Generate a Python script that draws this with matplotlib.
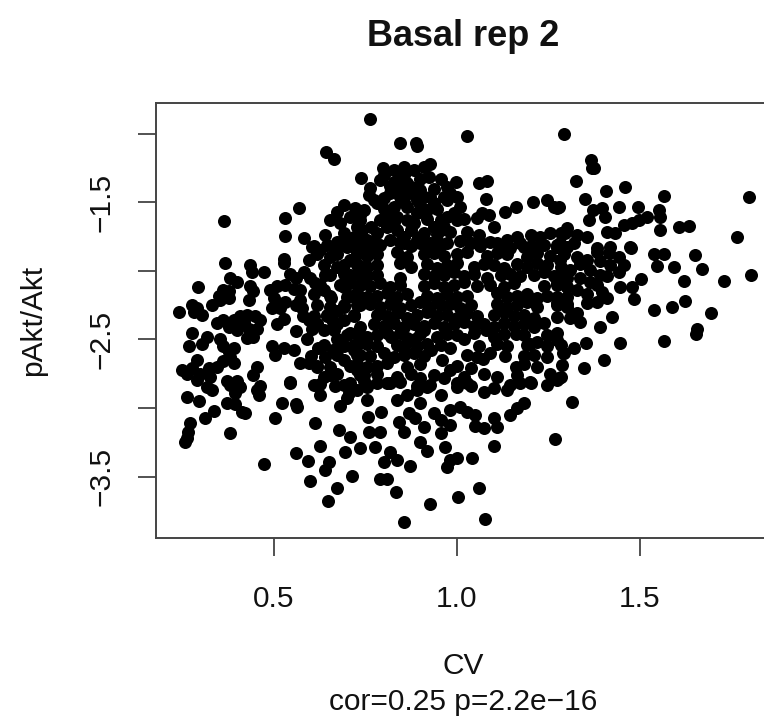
"""Basal rep 2 — pAkt/Akt against CV, one dot per cell."""

import matplotlib

matplotlib.use("Agg")
import matplotlib.pyplot as plt
import numpy as np

plt.rcParams["font.family"] = ["Liberation Sans", "DejaVu Sans"]

# ── points, grouped by region of the cloud ───────────────────────────────────
# upper band (pAkt/Akt above about -1.8)
top_x = [0.642, 0.663, 0.738, 0.364, 0.531, 0.569, 0.531, 0.581, 0.640, 0.604,
         0.672, 0.663, 0.672, 0.690, 0.722, 0.654, 0.681, 0.709, 0.736, 0.727,
         0.690, 0.718, 0.745, 0.736, 0.700,
         0.762, 0.844, 0.889, 0.891, 1.026, 1.292, 0.798, 0.791, 0.827, 0.855,
         0.882, 0.909, 0.927, 0.923, 0.845, 0.864, 0.827, 0.763, 0.759, 0.773,
         0.782, 0.745, 0.736, 0.741, 0.754, 0.727, 0.818, 0.845, 0.873, 0.900,
         0.891, 0.864, 0.827, 0.809, 0.836, 0.864, 0.891, 0.918, 0.937, 0.927,
         0.809, 0.836, 0.873, 0.909, 0.937, 0.955, 0.782, 0.818, 0.855, 0.891,
         0.927, 0.973, 0.996, 0.982, 1.000, 0.973, 1.009, 0.991, 1.000, 0.973,
         0.955, 0.982, 0.946, 0.973, 1.060, 1.082, 1.078, 1.055, 1.069, 1.087,
         1.100, 1.059, 1.064, 1.132, 1.162, 1.208, 1.246, 1.264, 1.274, 1.110,
         1.137, 1.164, 1.201, 1.228, 1.255, 1.283, 1.182, 1.210, 1.237, 1.274,
         0.800, 0.855, 0.900, 0.818, 0.873, 0.936, 0.845, 0.800, 0.909, 0.855,
         0.800, 0.900, 0.946, 0.827, 0.882, 0.918, 0.791, 0.855, 0.900, 0.945,
         0.764, 0.773, 0.964, 1.018, 1.027, 1.036, 1.009, 0.964, 0.955,
         1.366, 1.369, 1.375, 1.325, 1.407, 1.460, 1.351, 1.567, 1.797, 1.278,
         1.373, 1.396, 1.405, 1.442, 1.495, 1.551, 1.556, 1.360, 1.301, 1.296,
         1.328, 1.355, 1.410, 1.433, 1.455, 1.478, 1.496, 1.519, 1.556, 1.606,
         1.633, 1.765, 1.282, 1.319, 1.383, 1.419, 1.474]
top_y = [-1.131, -1.185, -1.325, -1.634, -1.612, -1.539, -1.743, -1.763, -1.739, -1.824,
         -1.787, -1.824, -1.568, -1.520, -1.544, -1.629, -1.653, -1.605, -1.593, -1.678,
         -1.726, -1.751, -1.775, -1.824, -1.824,
         -0.895, -1.070, -1.070, -1.090, -1.020, -1.000, -1.252, -1.337, -1.264, -1.240,
         -1.264, -1.240, -1.220, -1.313, -1.337, -1.362, -1.350, -1.398, -1.447, -1.483,
         -1.507, -1.556, -1.629, -1.702, -1.775, -1.823, -1.434, -1.459, -1.434, -1.410,
         -1.483, -1.532, -1.532, -1.592, -1.605, -1.629, -1.580, -1.556, -1.507, -1.459,
         -1.677, -1.702, -1.702, -1.726, -1.677, -1.629, -1.726, -1.775, -1.799, -1.775,
         -1.799, -1.386, -1.349, -1.434, -1.459, -1.483, -1.532, -1.580, -1.629, -1.605,
         -1.702, -1.714, -1.775, -1.799, -1.362, -1.345, -1.478, -1.617, -1.580, -1.592,
         -1.677, -1.738, -1.787, -1.568, -1.536, -1.495, -1.483, -1.532, -1.544, -1.799,
         -1.775, -1.750, -1.738, -1.750, -1.726, -1.726, -1.823, -1.823, -1.811, -1.823,
         -1.300, -1.300, -1.330, -1.380, -1.390, -1.400, -1.410, -1.470, -1.460, -1.500,
         -1.550, -1.520, -1.550, -1.640, -1.650, -1.620, -1.630, -1.750, -1.750, -1.730,
         -1.680, -1.800, -1.680, -1.620, -1.720, -1.800, -1.780, -1.460, -1.330,
         -1.190, -1.252, -1.252, -1.342, -1.415, -1.386, -1.478, -1.451, -1.459, -1.537,
         -1.556, -1.544, -1.605, -1.537, -1.532, -1.556, -1.609, -1.629, -1.690, -1.726,
         -1.738, -1.750, -1.714, -1.726, -1.665, -1.653, -1.629, -1.605, -1.702, -1.682,
         -1.673, -1.755, -1.799, -1.799, -1.835, -1.823, -1.823]

# middle band, left of CV 0.75
left_x = [0.365, 0.291, 0.240, 0.276, 0.290, 0.303, 0.282, 0.331, 0.349, 0.362,
          0.376, 0.376, 0.353, 0.381, 0.400, 0.435, 0.440, 0.472, 0.435, 0.444,
          0.431, 0.344, 0.362, 0.376, 0.390, 0.408, 0.417, 0.399, 0.426, 0.449,
          0.463, 0.454, 0.431, 0.444, 0.426, 0.276, 0.267, 0.303, 0.317, 0.353,
          0.362, 0.376, 0.390, 0.381, 0.290, 0.276, 0.249, 0.262, 0.299, 0.326,
          0.322, 0.344, 0.362, 0.390, 0.372, 0.399, 0.454, 0.444, 0.463, 0.404,
          0.490, 0.508, 0.531, 0.554, 0.572, 0.499, 0.495, 0.517, 0.526, 0.508,
          0.526, 0.526, 0.545, 0.581, 0.599, 0.613, 0.595, 0.608, 0.572, 0.577,
          0.595, 0.604, 0.617, 0.636, 0.608, 0.495, 0.504, 0.526, 0.554, 0.572,
          0.595, 0.617, 0.640, 0.654, 0.636, 0.545, 0.636, 0.654, 0.645, 0.672,
          0.663, 0.672, 0.627, 0.654, 0.672, 0.690, 0.708, 0.727, 0.708, 0.727,
          0.745, 0.672, 0.690, 0.718, 0.736, 0.708, 0.690, 0.718, 0.736, 0.690,
          0.727, 0.745, 0.672, 0.708,
          0.645, 0.700, 0.736, 0.618, 0.672, 0.727, 0.636, 0.690, 0.727, 0.654,
          0.709, 0.627, 0.681, 0.736, 0.654, 0.709, 0.618, 0.690, 0.736, 0.645,
          0.718, 0.618, 0.672, 0.700, 0.736, 0.636, 0.718, 0.672, 0.727, 0.618,
          0.709, 0.654, 0.736, 0.609, 0.690,
          0.655, 0.690, 0.660, 0.700, 0.580, 0.560, 0.590, 0.620, 0.660, 0.560,
          0.530, 0.560, 0.640, 0.690, 0.610, 0.600]
left_y = [-1.94, -2.12, -2.30, -2.25, -2.27, -2.32, -2.30, -2.25, -2.18, -2.14,
          -2.15, -2.20, -2.21, -2.05, -2.08, -1.96, -2.01, -2.01, -2.11, -2.15,
          -2.21, -2.38, -2.36, -2.41, -2.36, -2.33, -2.37, -2.43, -2.32, -2.33,
          -2.36, -2.42, -2.42, -2.48, -2.49, -2.45, -2.55, -2.53, -2.48, -2.50,
          -2.55, -2.59, -2.56, -2.63, -2.65, -2.71, -2.72, -2.75, -2.75, -2.77,
          -2.71, -2.70, -2.66, -2.67, -2.80, -2.80, -2.70, -2.76, -2.84, -2.84,
          -2.14, -2.11, -2.10, -2.13, -2.14, -2.20, -2.27, -2.27, -2.35, -2.39,
          -1.91, -1.94, -2.02, -2.01, -2.05, -2.09, -1.92, -1.82, -2.21, -2.27,
          -2.36, -2.42, -2.39, -2.43, -2.33, -2.55, -2.61, -2.56, -2.58, -2.67,
          -2.67, -2.70, -2.63, -2.70, -2.77, -2.81, -2.14, -2.26, -2.33, -2.29,
          -2.43, -2.50, -1.85, -1.90, -1.97, -2.02, -2.09, -2.16, -1.92, -1.87,
          -1.97, -1.82, -2.26, -2.33, -2.41, -2.45, -2.55, -2.58, -2.50, -2.65,
          -2.72, -2.80, -2.75, -2.82,
          -1.81, -1.80, -1.82, -1.88, -1.88, -1.88, -1.96, -1.96, -1.96, -2.03,
          -2.03, -2.10, -2.10, -2.10, -2.18, -2.18, -2.25, -2.25, -2.25, -2.32,
          -2.32, -2.39, -2.39, -2.47, -2.47, -2.54, -2.54, -2.61, -2.61, -2.69,
          -2.69, -2.76, -2.76, -2.83, -2.83,
          -2.20, -2.36, -2.37, -2.19, -2.33, -2.44, -2.50, -2.56, -2.58, -2.25,
          -2.23, -2.05, -2.03, -2.12, -2.17, -2.62]

# dense core, CV 0.73 - 1.30
core_x = [0.736, 0.763, 0.791, 0.845, 0.873, 0.900, 0.927, 0.955, 1.037, 1.064,
          1.091, 1.119, 1.146, 1.173, 1.201, 1.273,
          0.727, 0.754, 0.782, 0.836, 0.864, 0.909, 0.937, 0.964, 1.000, 1.028,
          1.082, 1.110, 1.137, 1.192, 1.219, 1.255, 1.292,
          0.727, 0.754, 0.782, 0.845, 0.873, 0.918, 0.946, 0.973, 1.000, 1.046,
          1.073, 1.100, 1.128, 1.164, 1.192, 1.219, 1.246, 1.283,
          0.727, 0.754, 0.782, 0.845, 0.909, 0.937, 0.964, 0.991, 1.018, 1.046,
          1.082, 1.119, 1.146, 1.173, 1.210, 1.237, 1.264, 1.292,
          0.736, 0.763, 0.791, 0.818, 0.845, 0.909, 0.937, 0.964, 0.991, 1.018,
          1.055, 1.091, 1.128, 1.155, 1.237, 1.273, 1.301,
          0.727, 0.754, 0.782, 0.809, 0.836, 0.864, 0.918, 0.946, 0.973, 1.000,
          1.028, 1.110, 1.137, 1.164, 1.192, 1.219, 1.246, 1.273,
          0.727, 0.763, 0.791, 0.818, 0.845, 0.873, 0.900, 0.927, 0.955, 0.982,
          1.009, 1.037, 1.110, 1.137, 1.164, 1.192, 1.219, 1.273, 1.301,
          0.782, 0.809, 0.836, 0.864, 0.891, 0.918, 0.946, 0.973, 1.000, 1.028,
          1.055, 1.100, 1.128, 1.155, 1.183, 1.210,
          0.773, 0.800, 0.827, 0.855, 0.882, 0.909, 0.937, 0.964, 0.991, 1.018,
          1.046, 1.073, 1.100, 1.128, 1.155, 1.183, 1.210, 1.237,
          0.727, 0.754, 0.782, 0.809, 0.946, 0.973, 1.000, 1.100, 1.128, 1.246,
          1.273, 0.864, 0.900, 1.046, 1.183,
          0.727, 0.754, 0.782, 0.836, 0.864, 0.891, 0.918, 0.955, 0.982, 1.110,
          1.137, 1.192, 1.219, 1.246, 1.283,
          0.736, 0.763, 0.800, 0.827, 0.855, 0.882, 0.909, 1.028, 1.055, 1.091,
          1.183, 1.210, 1.246, 1.292,
          0.727, 0.754, 0.782, 0.809, 0.864, 0.900, 1.000, 1.037, 1.183, 1.219,
          0.745, 0.782, 0.836, 0.873, 0.937, 0.964, 1.073, 1.110, 1.164, 1.255,
          1.283,
          0.754, 0.809, 0.891, 0.927, 1.000, 1.037, 1.146, 1.201,
          0.845, 0.885, 0.820, 0.910, 0.855, 0.930, 1.020, 1.060, 1.080, 1.160,
          1.200, 1.070, 1.130, 1.160, 0.960, 0.980, 0.900, 1.020]
core_y = [-1.80, -1.82, -1.81, -1.79, -1.82, -1.80, -1.83, -1.81, -1.80, -1.82,
          -1.79, -1.81, -1.83, -1.80, -1.82, -1.81,
          -1.87, -1.89, -1.88, -1.86, -1.90, -1.88, -1.87, -1.89, -1.88, -1.86,
          -1.89, -1.87, -1.88, -1.90, -1.87, -1.89, -1.88,
          -1.95, -1.97, -1.96, -1.94, -1.97, -1.95, -1.98, -1.96, -1.94, -1.97,
          -1.95, -1.96, -1.98, -1.95, -1.97, -1.94, -1.96, -1.97,
          -2.02, -2.04, -2.03, -2.05, -2.02, -2.04, -2.03, -2.01, -2.04, -2.02,
          -2.05, -2.03, -2.02, -2.04, -2.03, -2.01, -2.04, -2.03,
          -2.10, -2.11, -2.09, -2.12, -2.10, -2.11, -2.09, -2.12, -2.10, -2.08,
          -2.11, -2.10, -2.12, -2.09, -2.11, -2.10, -2.12,
          -2.17, -2.19, -2.18, -2.16, -2.19, -2.17, -2.18, -2.20, -2.17, -2.19,
          -2.18, -2.16, -2.19, -2.18, -2.17, -2.20, -2.18, -2.19,
          -2.25, -2.24, -2.26, -2.24, -2.27, -2.25, -2.23, -2.26, -2.25, -2.24,
          -2.27, -2.25, -2.24, -2.26, -2.25, -2.23, -2.26, -2.25, -2.24,
          -2.32, -2.33, -2.31, -2.34, -2.32, -2.30, -2.33, -2.32, -2.34, -2.31,
          -2.33, -2.32, -2.30, -2.33, -2.32, -2.34,
          -2.39, -2.40, -2.38, -2.41, -2.39, -2.40, -2.38, -2.41, -2.39, -2.37,
          -2.40, -2.39, -2.41, -2.38, -2.40, -2.39, -2.41, -2.38,
          -2.46, -2.48, -2.47, -2.45, -2.48, -2.46, -2.47, -2.48, -2.46, -2.47,
          -2.45, -2.49, -2.46, -2.45, -2.47,
          -2.54, -2.53, -2.55, -2.54, -2.52, -2.55, -2.53, -2.54, -2.56, -2.53,
          -2.55, -2.54, -2.52, -2.55, -2.54,
          -2.61, -2.62, -2.60, -2.63, -2.61, -2.60, -2.62, -2.61, -2.63, -2.60,
          -2.62, -2.61, -2.63, -2.60,
          -2.68, -2.70, -2.69, -2.67, -2.70, -2.68, -2.69, -2.71, -2.68, -2.70,
          -2.76, -2.75, -2.77, -2.75, -2.76, -2.78, -2.75, -2.77, -2.76, -2.75,
          -2.77,
          -2.83, -2.82, -2.84, -2.83, -2.82, -2.84, -2.83, -2.82,
          -2.45, -2.50, -2.48, -2.43, -2.57, -2.58, -2.50, -2.55, -2.43, -2.46,
          -2.53, -2.64, -2.62, -2.70, -2.65, -2.72, -2.78, -2.77]

# middle band, right of CV 1.27
right_x = [1.475, 1.537, 1.565, 1.546, 1.592, 1.651, 1.670, 1.729, 1.803, 1.273,
           1.301, 1.328, 1.355, 1.383, 1.414, 1.442, 1.455, 1.442, 1.364, 1.310,
           1.282, 1.273, 1.301, 1.328, 1.364, 1.396, 1.410, 1.446, 1.478, 1.483,
           1.503, 1.619, 1.273, 1.301, 1.328, 1.355, 1.383, 1.310, 1.337, 1.273,
           1.424, 1.392, 1.537, 1.588, 1.622, 1.694, 1.656, 1.654, 1.565, 1.446,
           1.353, 1.319, 1.291, 1.273, 1.401, 1.346, 1.287, 1.278,
           1.337, 1.392, 1.419, 1.392, 1.337, 1.301, 1.355, 1.301, 1.383, 1.410]
right_y = [-1.836, -1.877, -1.877, -1.965, -1.969, -1.884, -1.989, -2.071, -2.030, -1.824,
           -1.824, -1.897, -1.921, -1.860, -1.872, -1.897, -1.957, -2.006, -1.994, -1.994,
           -1.921, -2.091, -2.115, -2.140, -2.079, -2.152, -2.200, -2.115, -2.115, -2.208,
           -2.062, -2.071, -2.237, -2.261, -2.310, -2.237, -2.225, -2.346, -2.370, -2.334,
           -2.334, -2.412, -2.285, -2.261, -2.217, -2.310, -2.426, -2.460, -2.509, -2.528,
           -2.528, -2.565, -2.601, -2.504, -2.650, -2.711, -2.686, -2.783,
           -1.950, -1.930, -1.960, -2.030, -2.050, -2.050, -2.170, -2.190, -2.100, -2.040]

# lower band (pAkt/Akt below about -2.8)
low_x = [0.290, 0.317, 0.331, 0.381, 0.394, 0.408, 0.454, 0.458, 0.545, 0.627,
         0.668, 0.704, 0.262, 0.294, 0.372, 0.394, 0.413, 0.422, 0.522, 0.561,
         0.563, 0.627, 0.680, 0.700, 0.335, 0.311, 0.271, 0.264, 0.258, 0.262,
         0.379, 0.504, 0.613, 0.677, 0.709, 0.472, 0.561, 0.592, 0.625, 0.650,
         0.640, 0.599, 0.713, 0.672, 0.647, 0.695,
         0.727, 0.754, 0.782, 0.818, 0.845, 0.891, 0.918, 0.955, 1.000, 1.027,
         1.073, 1.100, 1.137, 1.173, 1.200, 1.246, 1.273, 0.754, 0.836, 0.864,
         0.900, 0.936, 0.955, 0.982, 1.009, 1.027, 1.050, 1.073, 1.100, 1.109,
         1.146, 1.164, 1.182, 0.756, 0.792, 0.841, 0.854, 0.868, 0.886, 0.909,
         0.955, 0.982, 1.050, 0.759, 0.791, 0.736, 0.777, 0.818, 0.836, 0.800,
         0.900, 0.918, 0.968, 0.982, 1.000, 0.973, 1.041, 1.102, 1.269, 0.871,
         0.791, 0.809, 0.832, 0.927, 1.003, 1.059, 0.856, 1.076, 1.314]
low_y = [-2.795, -2.844, -2.868, -2.832, -2.892, -2.844, -2.868, -2.905, -2.815, -2.824,
         -2.839, -2.892, -2.917, -2.946, -2.960, -2.970, -3.026, -3.033, -2.960, -2.970,
         -2.994, -2.905, -2.985, -2.929, -3.019, -3.075, -3.111, -3.172, -3.245, -3.215,
         -3.184, -3.070, -3.111, -3.160, -3.213, -3.410, -3.325, -3.386, -3.276, -3.391,
         -3.451, -3.529, -3.493, -3.580, -3.675, -3.318,
         -2.868, -2.844, -2.820, -2.815, -2.807, -2.868, -2.844, -2.905, -2.844, -2.820,
         -2.880, -2.856, -2.868, -2.820, -2.807, -2.832, -2.795, -2.941, -2.941, -2.905,
         -2.965, -3.038, -3.087, -3.014, -2.990, -3.026, -3.050, -3.148, -3.075, -3.135,
         -3.050, -3.002, -2.965, -3.067, -3.031, -3.099, -3.172, -3.038, -3.075, -3.135,
         -3.179, -3.123, -3.131, -3.177, -3.177, -3.293, -3.281, -3.318, -3.378, -3.391,
         -3.245, -3.311, -3.286, -3.378, -3.366, -3.427, -3.366, -3.274, -3.225, -3.420,
         -3.519, -3.519, -3.614, -3.697, -3.646, -3.582, -3.828, -3.809, -2.953]

cv = np.concatenate([top_x, left_x, core_x, right_x, low_x])
ratio = np.concatenate([top_y, left_y, core_y, right_y, low_y])

x_ticks = [0.5, 1.0, 1.5]
x_tick_labels = ["0.5", "1.0", "1.5"]
y_ticks = [-1.0, -1.5, -2.0, -2.5, -3.0, -3.5]
y_tick_labels = ["", "\u22121.5", "", "\u22122.5", "", "\u22123.5"]

title = "Basal rep 2"
x_label = "CV"
y_label = "pAkt/Akt"
note = "cor=0.25 p=2.2e\u221216"

W, H = 764, 723
fig = plt.figure(figsize=(W / 100, H / 100), dpi=100)
# R-style box; the right edge of the original falls just outside the image
ax = fig.add_axes([156 / W, (H - 538) / H, 615 / W, 435 / H])
ax.scatter(cv, ratio, s=88, c="black", linewidths=0, zorder=3)

ax.set_xlim(0.1776, 1.858)
ax.set_ylim(-3.947, -0.776)
ax.set_xticks(x_ticks)
ax.set_xticklabels(x_tick_labels)
ax.set_yticks(y_ticks)
ax.set_yticklabels(y_tick_labels, rotation=90, va="center")

edge = "#444444"
for sp in ax.spines.values():
    sp.set_color(edge)
    sp.set_linewidth(1.4)
ax.tick_params(axis="both", direction="out", length=13, width=1.3,
               color=edge, labelsize=21.5, labelcolor="#111111")
ax.tick_params(axis="x", pad=21)
ax.tick_params(axis="y", pad=16)

cx = (156 + 771) / 2 / W
fig.text(cx, 1 - 36 / H, title, ha="center", va="center",
         fontsize=26, fontweight="bold", color="#111111")
fig.text(cx, 1 - 666 / H, x_label, ha="center", va="center",
         fontsize=21.5, color="#111111")
fig.text(cx, 1 - 702 / H, note, ha="center", va="center",
         fontsize=21.5, color="#111111")
fig.text(33 / W, 1 - 320 / H, y_label, ha="center", va="center",
         rotation=90, fontsize=21.5, color="#111111")

fig.savefig("out.png", dpi=100)
print(f"{len(cv)} points")
